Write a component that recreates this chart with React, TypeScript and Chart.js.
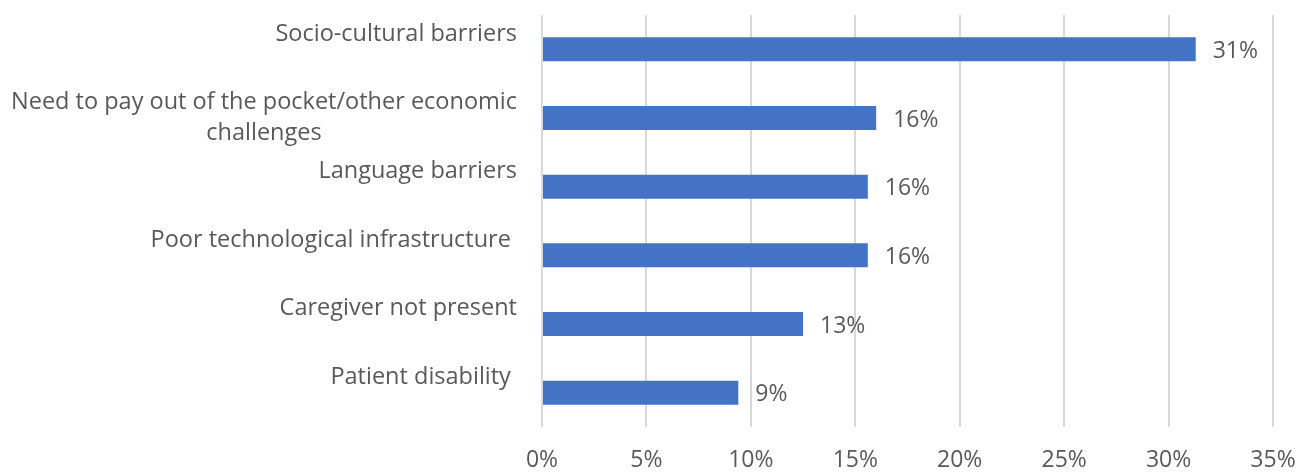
import React, { useEffect, useRef } from "react";
import { Chart, registerables } from "chart.js";

Chart.register(...registerables);

const categories: string[][] = [
  ["Socio-cultural barriers", ""],
  ["Need to pay out of the pocket/other economic", "challenges"],
  ["Language barriers", ""],
  ["Poor technological infrastructure ", ""],
  ["Caregiver not present", ""],
  ["Patient disability ", ""],
];
const shares: number[] = [31.3, 16.0, 15.6, 15.6, 12.5, 9.4];
const shareLabels: string[] = ["31%", "16%", "16%", "16%", "13%", "9%"];
const xTickValues: number[] = [0, 5, 10, 15, 20, 25, 30, 35];

const FONT = "'Open Sans', 'Noto Sans', sans-serif";
const TEXT = "#595959";
const W = 1299;
const H = 472;

const categoryLabelPlugin = {
  id: "categoryLabels",
  afterDraw(chart: any) {
    const ctx = chart.ctx;
    const y = chart.scales.y;
    const area = chart.chartArea;
    const lh = 31;
    ctx.save();
    ctx.font = `23.5px ${FONT}`;
    ctx.fillStyle = TEXT;
    ctx.textBaseline = "middle";
    ctx.textAlign = "center";
    categories.forEach((lines, i) => {
      const cy = y.getPixelForTick(i);
      const widths = lines.map((l) => ctx.measureText(l).width);
      const blockW = Math.max(...widths);
      const right = area.left - 25;
      const cx = right - blockW / 2;
      lines.forEach((l, j) => {
        const ly = cy + (j - (lines.length - 1) / 2) * lh;
        ctx.fillText(l, cx, ly);
      });
    });
    ctx.restore();
  },
};

const valueLabelPlugin = {
  id: "valueLabels",
  afterDatasetsDraw(chart: any) {
    const ctx = chart.ctx;
    const meta = chart.getDatasetMeta(0);
    ctx.save();
    ctx.font = `23px ${FONT}`;
    ctx.fillStyle = TEXT;
    ctx.textBaseline = "middle";
    ctx.textAlign = "left";
    meta.data.forEach((bar: any, i: number) => {
      ctx.fillText(shareLabels[i], bar.x + 17, bar.y + 2);
    });
    ctx.restore();
  },
};

export default function App() {
  const ref = useRef<HTMLCanvasElement | null>(null);
  useEffect(() => {
    if (!ref.current) return;
    const chart = new Chart(ref.current, {
      type: "bar",
      data: {
        labels: categories.map((c) => c.join(" ").trim()),
        datasets: [
          {
            data: shares,
            backgroundColor: "#4472C4",
            borderWidth: 0,
            categoryPercentage: 1,
            barPercentage: 0.35,
          },
        ],
      },
      options: {
        indexAxis: "y",
        animation: false,
        responsive: false,
        devicePixelRatio: 1,
        layout: { padding: { top: 15, right: 26, bottom: 0, left: 0 } },
        plugins: {
          legend: { display: false },
          tooltip: { enabled: false },
        },
        scales: {
          y: {
            ticks: { display: false },
            grid: { display: false, drawTicks: false },
            border: { display: false },
            afterFit: (s: any) => {
              s.width = 542;
              s.paddingTop = 0;
              s.paddingBottom = 0;
            },
          },
          x: {
            min: 0,
            max: 35,
            afterBuildTicks: (s: any) => {
              s.ticks = xTickValues.map((v) => ({ value: v }));
            },
            afterFit: (s: any) => {
              s.height = 45;
              s.paddingLeft = 0;
              s.paddingRight = 0;
              s.paddingTop = 0;
              s.paddingBottom = 0;
            },
            ticks: {
              padding: 22,
              color: TEXT,
              font: { family: FONT, size: 23, lineHeight: 1 },
              callback: (v: any) => `${v}%`,
              maxRotation: 0,
              autoSkip: false,
            },
            grid: { color: "#d9d9d9", lineWidth: 2, drawTicks: false },
            border: { display: false },
          },
        },
      },
      plugins: [categoryLabelPlugin, valueLabelPlugin],
    });
    return () => chart.destroy();
  }, []);
  return (
    <div
      style={{
        position: "absolute",
        left: 0,
        top: 0,
        width: W,
        height: H,
        overflow: "hidden",
        background: "#fff",
      }}
    >
      <canvas
        ref={ref}
        width={W}
        height={H}
        style={{ display: "block", width: W, height: H }}
      />
    </div>
  );
}
